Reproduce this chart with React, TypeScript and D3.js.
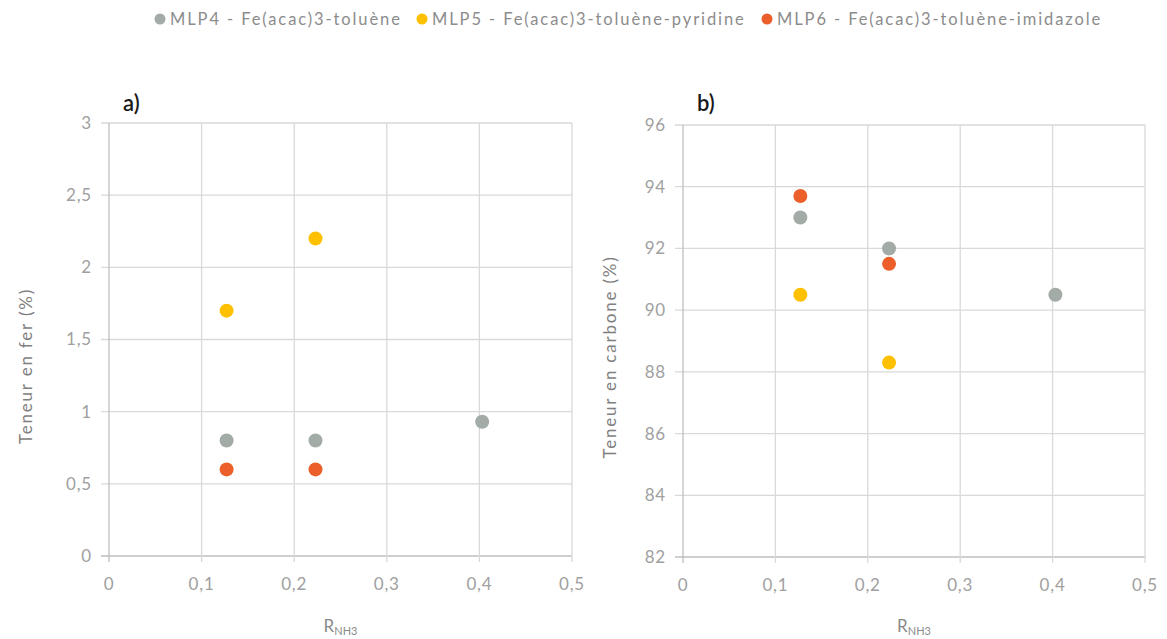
import React from "react";
import * as d3 from "d3";

const seriesNames = [
  "MLP4 - Fe(acac)3-toluène",
  "MLP5 - Fe(acac)3-toluène-pyridine",
  "MLP6 - Fe(acac)3-toluène-imidazole",
];
const seriesColors = ["#A3ABA7", "#FFC000", "#EC5F2A"];

// R_NH3 values per series
const mlp4X = [0.127, 0.223, 0.403];
const mlp5X = [0.127, 0.223];
const mlp6X = [0.127, 0.223];

// Panel a) iron content (%)
const ironMlp4 = [0.8, 0.8, 0.93];
const ironMlp5 = [1.7, 2.2];
const ironMlp6 = [0.6, 0.6];

// Panel b) carbon content (%)
const carbonMlp4 = [93.0, 92.0, 90.5];
const carbonMlp5 = [90.5, 88.3];
const carbonMlp6 = [93.7, 91.5];

const xTicks = [0, 0.1, 0.2, 0.3, 0.4, 0.5];
const ironTicks = [0, 0.5, 1, 1.5, 2, 2.5, 3];
const carbonTicks = [82, 84, 86, 88, 90, 92, 94, 96];

const FONT = "Lato, 'Open Sans', sans-serif";
const fmt = (v: number) => String(v).replace(".", ",");

type Panel = {
  label: string;
  yTitle: string;
  yTicks: number[];
  yDomain: [number, number];
  series: { xs: number[]; ys: number[] }[];
  x0: number;
  x1: number;
  y0: number;
  y1: number;
  yTitleX: number;
  yTitleY: number;
};

const panels: Panel[] = [
  {
    label: "a)",
    yTitle: "Teneur en fer (%)",
    yTicks: ironTicks,
    yDomain: [0, 3],
    series: [
      { xs: mlp4X, ys: ironMlp4 },
      { xs: mlp5X, ys: ironMlp5 },
      { xs: mlp6X, ys: ironMlp6 },
    ],
    x0: 109,
    x1: 572,
    y0: 556,
    y1: 123,
    yTitleX: 32,
    yTitleY: 366,
  },
  {
    label: "b)",
    yTitle: "Teneur en carbone (%)",
    yTicks: carbonTicks,
    yDomain: [82, 96],
    series: [
      { xs: mlp4X, ys: carbonMlp4 },
      { xs: mlp5X, ys: carbonMlp5 },
      { xs: mlp6X, ys: carbonMlp6 },
    ],
    x0: 683,
    x1: 1145,
    y0: 557,
    y1: 125,
    yTitleX: 616,
    yTitleY: 357,
  },
];

function PanelView({ p }: { p: Panel }) {
  const x = d3.scaleLinear().domain([0, 0.5]).range([p.x0, p.x1]);
  const y = d3.scaleLinear().domain(p.yDomain).range([p.y0, p.y1]);
  const midX = (p.x0 + p.x1) / 2;
  return (
    <g>
      {p.yTicks.map((t) => (
        <line key={"gy" + t} x1={p.x0 - 8} x2={p.x1} y1={y(t)} y2={y(t)}
          stroke={t === p.yDomain[0] ? "#BFBFBF" : "#D9D9D9"} strokeWidth={1.3} />
      ))}
      {xTicks.map((t) => (
        <line key={"gx" + t} x1={x(t)} x2={x(t)} y1={p.y1} y2={p.y0 + 6}
          stroke={t === 0 ? "#BFBFBF" : "#D9D9D9"} strokeWidth={1.3} />
      ))}
      {p.yTicks.map((t) => (
        <text key={"ly" + t} x={p.x0 - 17} y={y(t)} dy="0.35em" textAnchor="end"
          fontSize={17} letterSpacing={0.8} fill="#A0A0A0" fontFamily={FONT}>{fmt(t)}</text>
      ))}
      {xTicks.map((t) => (
        <text key={"lx" + t} x={x(t)} y={p.y0 + 34} textAnchor="middle"
          fontSize={17} letterSpacing={0.8} fill="#A0A0A0" fontFamily={FONT}>{fmt(t)}</text>
      ))}
      <text x={midX} y={632} textAnchor="middle" fontSize={17} fill="#8A8A8A" fontFamily={FONT}>
        R<tspan fontSize={11} dy={3}>NH3</tspan>
      </text>
      <text transform={`translate(${p.yTitleX},${p.yTitleY}) rotate(-90)`} textAnchor="middle"
        fontSize={17} letterSpacing={1.8} fill="#7F7F7F" fontFamily={FONT}>{p.yTitle}</text>
      <text x={p.x0 + 14} y={111} fontSize={22} fontWeight={600} fill="#1a1a1a" fontFamily={FONT}>{p.label}</text>
      {p.series.map((s, si) =>
        s.xs.map((xv, i) => (
          <circle key={si + "-" + i} cx={x(xv)} cy={y(s.ys[i])} r={7} fill={seriesColors[si]} />
        ))
      )}
    </g>
  );
}

const legendX = [160, 422, 767];

export default function App() {
  return (
    <svg width={1167} height={639} style={{ display: "block", position: "absolute", left: 0, top: 0, background: "#fff" }}>
      {seriesNames.map((n, i) => (
        <g key={n}>
          <circle cx={legendX[i]} cy={19} r={5.5} fill={seriesColors[i]} />
          <text x={legendX[i] + 10} y={19} dy="0.35em" fontSize={16.5} letterSpacing={1.9} fill="#8C8C8C" fontFamily={FONT}>{n}</text>
        </g>
      ))}
      {panels.map((p) => (
        <PanelView key={p.label} p={p} />
      ))}
    </svg>
  );
}
